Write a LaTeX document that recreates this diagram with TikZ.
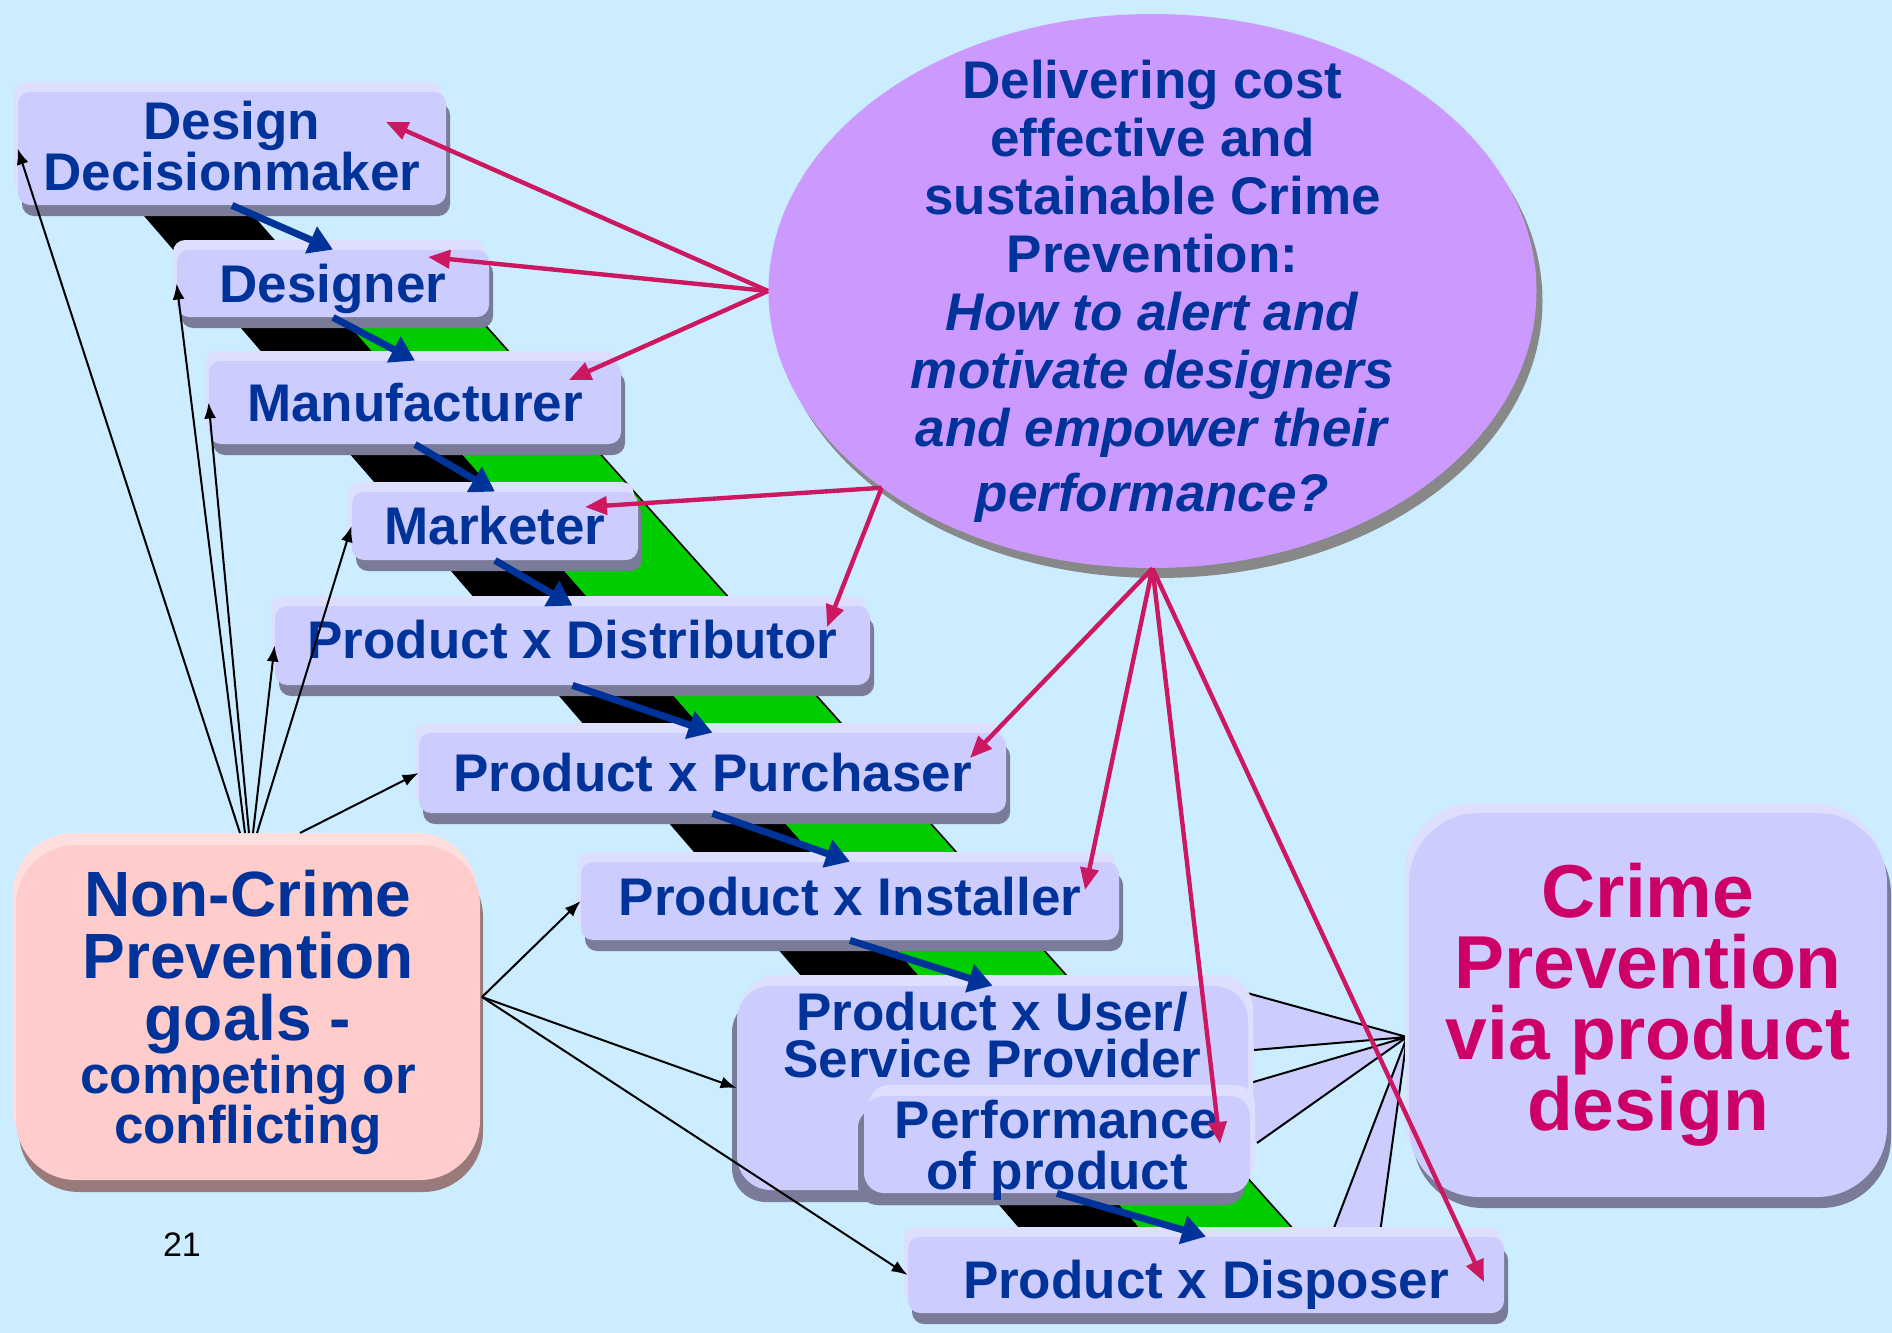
\documentclass[tikz,border=0pt]{standalone}
\usepackage{fontspec}
\setmainfont{Liberation Sans}
\usetikzlibrary{shapes.geometric,shadows,arrows.meta}

\definecolor{bgblue}{RGB}{204,236,255}
\definecolor{boxface}{RGB}{204,204,255}
\definecolor{boxrim}{RGB}{222,222,255}
\definecolor{boxshade}{RGB}{122,122,153}
\definecolor{goalface}{RGB}{255,204,204}
\definecolor{goalrim}{RGB}{255,222,222}
\definecolor{goalshade}{RGB}{153,122,122}
\definecolor{bubblefill}{RGB}{204,153,255}
\definecolor{bubbleshade}{RGB}{136,136,136}
\definecolor{navytext}{RGB}{0,51,153}
\definecolor{crimetext}{RGB}{204,0,102}
\definecolor{linkpink}{RGB}{204,24,96}
\definecolor{stairgreen}{RGB}{0,204,0}

\tikzset{
  boxfont/.style={font=\fontsize{26.5}{25.5}\selectfont\bfseries, text=navytext},
  stepbox/.style={rectangle, rounded corners=6pt, inner sep=0pt, fill=boxface, align=center, boxfont,
    general shadow={fill=boxshade, shadow xshift=2pt, shadow yshift=-5.5pt},
    general shadow={fill=boxrim, shadow xshift=-2pt, shadow yshift=5pt}},
  backbox/.style={rectangle, rounded corners=10pt, inner sep=0pt, fill=boxface, align=center, boxfont,
    general shadow={fill=boxshade, shadow xshift=-2.5pt, shadow yshift=-6pt},
    general shadow={fill=boxrim, shadow xshift=2.5pt, shadow yshift=5.5pt}},
  goalbox/.style={rectangle, rounded corners=30pt, inner sep=0pt, fill=goalface, align=center, text=navytext,
    general shadow={fill=goalshade, shadow xshift=1.5pt, shadow yshift=-6pt},
    general shadow={fill=goalrim, shadow xshift=-1.5pt, shadow yshift=6pt}},
  bubble/.style={ellipse, inner sep=-20pt, fill=bubblefill, align=center, text=navytext,
    font=\fontsize{26.5}{29}\selectfont\bfseries,
    general shadow={fill=bubbleshade, shadow xshift=3pt, shadow yshift=-5pt}},
  stepflow/.style={draw=navytext, line width=3.5pt, -{Triangle[length=12pt,width=14pt]}},
  askflow/.style={draw=linkpink, line width=2.2pt, -{Triangle[length=11pt,width=9pt]}},
  goalflow/.style={draw=black, line width=1pt, -{Latex[length=8pt,width=6pt]}},
  fanline/.style={draw=black, line width=1pt}
}

\begin{document}
\begin{tikzpicture}[x=0.5pt,y=-0.5pt]
  \useasboundingbox (0,0) rectangle (1892,1333);
  \fill[bgblue] (0,0) rectangle (1892,1333);

  % the stair ribbon behind the chain of boxes
  \fill[black] (87,150) -- (196,150) -- (1159,1250) -- (1038,1250) -- cycle;
  \fill[stairgreen] (292,260) -- (427,260) -- (1312,1250) -- (1159,1250) -- cycle;
  \draw[line width=0.8pt] (427,260) -- (1312,1250);

  % question bubble
  \node[bubble, minimum width=384pt, minimum height=277pt] (goal) at (1152.5,291)
    {Delivering cost\\effective and\\sustainable Crime\\Prevention:\\
     \textit{How to alert and}\\\textit{motivate designers}\\
     \textit{and empower their}\\[3.5pt]\textit{performance?}};

  % fan from the crime prevention box
  \coordinate (fan) at (1407,1037);
  \coordinate (fu1) at (1247,993);  \coordinate (fu2) at (1254,1050);
  \coordinate (fp1) at (1233,1088); \coordinate (fp2) at (1257,1143);
  \coordinate (fd1) at (1332,1233); \coordinate (fd2) at (1380,1233);
  \fill[boxface] (fan) -- (fu1) -- (fu2) -- cycle;
  \fill[boxface] (fan) -- (fp1) -- (fp2) -- cycle;
  \fill[boxface] (fan) -- (fd1) -- (fd2) -- cycle;
  \draw[fanline] (fan) -- (fu1) (fan) -- (fu2) (fan) -- (fp1)
                 (fan) -- (fp2) (fan) -- (fd1) (fan) -- (fd2);

  % chain of actors
  \node[stepbox, minimum width=214pt, minimum height=56.5pt, text depth=3pt] (dd) at (232,148.5) {Design\\Decisionmaker};
  \node[stepbox, minimum width=156pt, minimum height=33.5pt, text depth=0pt] (designer) at (333,283.5) {Designer};
  \node[stepbox, minimum width=206pt, minimum height=41.5pt] (manuf) at (415,402.5) {Manufacturer};
  \node[stepbox, minimum width=143pt, minimum height=34pt] (marketer) at (495,526) {Marketer};
  \node[stepbox, minimum width=297.5pt, minimum height=39.5pt, text depth=6pt] (distrib) at (572.5,645.5) {Product x Distributor};
  \node[stepbox, minimum width=293.5pt, minimum height=40pt] (purchaser) at (712.5,773) {Product x Purchaser};
  \node[stepbox, minimum width=269pt, minimum height=39pt, text depth=5pt] (installer) at (850,901) {Product x Installer};
  \node[backbox, rounded corners=17pt, minimum width=255.5pt, minimum height=102pt,
        label={[boxfont, align=center, anchor=north, inner sep=0pt, yshift=-3pt, font=\fontsize{26.5}{23.5}\selectfont\bfseries]north:{Product x User/\\Service Provider}}]
        (user) at (992.5,1088) {};
  \node[backbox, minimum width=193pt, minimum height=48.5pt, text depth=0pt,
        general shadow={fill=boxshade, shadow xshift=-3pt, shadow yshift=-6pt}] (perf) at (1057,1144.5)
        {Performance\\of product};
  \node[stepbox, minimum width=298pt, minimum height=38pt, text height=28.5pt] (disposer) at (1206,1275) {Product x Disposer};

  \node[goalbox, minimum width=232pt, minimum height=167.5pt, font=\fontsize{32}{31}\selectfont\bfseries]
        (goals) at (248,1012.5)
        {Non-Crime\\Prevention\\goals -\\[-4.5pt]{\fontsize{26.5}{25}\selectfont competing or}\\[-6pt]
         {\fontsize{26.5}{25}\selectfont conflicting}};
  \node[stepbox, rounded corners=35pt, minimum width=239pt, minimum height=192pt,
        font=\fontsize{37.5}{35.5}\selectfont\bfseries, text=crimetext] (crime) at (1648,1005)
        {Crime\\Prevention\\via product\\design};

  \node[font=\fontsize{17}{20}\selectfont] (pagenum) at (182,1245) {21};

  % steps down the chain
  \draw[stepflow] (dd.south) -- (designer.north);
  \draw[stepflow] (designer.south) -- (manuf.north);
  \draw[stepflow] (manuf.south) -- (marketer.north);
  \draw[stepflow] (marketer.south) -- (distrib.north);
  \draw[stepflow] (distrib.south) -- (purchaser.north);
  \draw[stepflow] (purchaser.south) -- (installer.north);
  \draw[stepflow] (installer.south) -- (user.north);
  \draw[stepflow] (perf.south) -- (disposer.north);

  % competing goals
  \coordinate (ncTop) at (248,833);
  \coordinate (ncSide) at (482,997);
  \draw[goalflow] ([xshift=-4pt]ncTop) -- (dd.west);
  \draw[goalflow] ([xshift=-1.5pt]ncTop) -- (designer.west);
  \draw[goalflow] ([xshift=0.5pt]ncTop) -- (manuf.west);
  \draw[goalflow] ([xshift=2.5pt]ncTop) -- (distrib.west);
  \draw[goalflow] ([xshift=4.5pt]ncTop) -- (marketer.west);
  \draw[goalflow] ([xshift=26pt]ncTop) -- (purchaser.west);
  \draw[goalflow] (ncSide) -- (installer.west);
  \draw[goalflow] (ncSide) -- (user.west);
  \draw[goalflow] (ncSide) -- (disposer.west);

  % alert and motivate
  \coordinate (toDD) at (386,122);
  \coordinate (toDes) at (428,257);
  \coordinate (toMan) at (569,380);
  \coordinate (toMar) at (585,507);
  \coordinate (toDis) at (827,627);
  \coordinate (toPur) at (970,758);
  \coordinate (toIns) at (1085,890);
  \coordinate (toPerf) at (1220,1144);
  \coordinate (toDisp) at (1484,1282);
  \draw[askflow] (goal.west) -- (toDD);
  \draw[askflow] (goal.west) -- (toDes);
  \draw[askflow] (goal.west) -- (toMan);
  \draw[askflow] (goal.216) -- (toMar);
  \draw[askflow] (goal.216) -- (toDis);
  \draw[askflow] (goal.south) -- (toPur);
  \draw[askflow] (goal.south) -- (toIns);
  \draw[askflow] (goal.south) -- (toPerf);
  \draw[askflow] (goal.south) -- (toDisp);
\end{tikzpicture}
\end{document}
